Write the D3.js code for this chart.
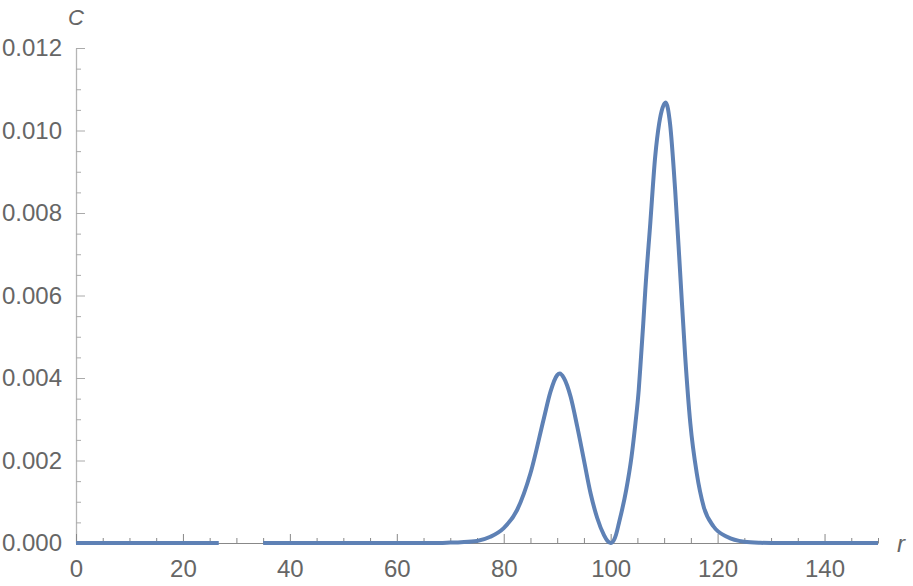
<!DOCTYPE html>
<html>
<head>
<meta charset="utf-8">
<script src="https://cdn.jsdelivr.net/npm/d3@7"></script>
<style>
  html, body { margin: 0; padding: 0; background: #fff; }
  svg { display: block; }
  .tick text { font-family: "Liberation Sans", Arial, sans-serif; font-size: 24px; fill: #666; }
</style>
</head>
<body>
<svg id="chart" width="913" height="586"></svg>
<script>
// ---- data ----
// null marks the gap in the curve
const rValues = [0, 26.7, null, 35, 60, 68, 70, 72, 75, 77.5, 80, 82.5, 85, 87.5, 88.75, 90, 90.5,
  91.25, 92.5, 93.75, 95, 96.25, 97.5, 98.75, 99.4, 100, 100.6, 101, 101.54, 102.9, 103.9, 104.63,
  105.25, 105.68, 106.1, 106.48, 107.41, 108.33, 109.07, 109.7, 110.3, 111.1, 112.06, 113, 113.94,
  114.9, 116.1, 117.4, 119.25, 121.75, 125, 128, 130, 150];
const cValues = [0, 0, null, 0, 0, 0, 0.00001, 0.00002, 0.00005, 0.00015, 0.00036, 0.0008, 0.00169,
  0.00302, 0.00367, 0.00407, 0.00411, 0.004, 0.00355, 0.00282, 0.00201, 0.0012, 0.0006, 0.00019,
  0.00005, 0, 0.00007, 0.0002, 0.00048, 0.00128, 0.00209, 0.0029, 0.00371, 0.00452, 0.00533, 0.00613,
  0.00775, 0.00937, 0.01017, 0.01055, 0.01068, 0.01017, 0.00856, 0.00654, 0.00452, 0.0029, 0.00169,
  0.00088, 0.0004, 0.00015, 0.00003, 0.000005, 0, 0];
const xMajorTicks = [0, 20, 40, 60, 80, 100, 120, 140];
const xMinorTicks = [5, 10, 15, 25, 30, 35, 45, 50, 55, 65, 70, 75, 85, 90, 95, 105, 110, 115, 125, 130, 135, 145, 150];
const yMajorTicks = [0, 0.002, 0.004, 0.006, 0.008, 0.010, 0.012];
const yMinorTicks = [0.0005, 0.001, 0.0015, 0.0025, 0.003, 0.0035, 0.0045, 0.005, 0.0055, 0.0065, 0.007, 0.0075,
  0.0085, 0.009, 0.0095, 0.0105, 0.011, 0.0115];
const xLabel = "r";
const yLabel = "C";

// ---- chart ----
const svg = d3.select("#chart");
const x = d3.scaleLinear().domain([0, 150]).range([76, 878]);
const y = d3.scaleLinear().domain([0, 0.012]).range([543, 48]);

// y axis
const gy = svg.append("g").attr("transform", `translate(${x(0)},0)`);
gy.call(d3.axisLeft(y).tickValues(yMajorTicks).tickFormat(d3.format(".3f"))
  .tickSizeInner(-9).tickSizeOuter(0).tickPadding(14));
gy.select(".domain").attr("stroke", "#b5b5b5").attr("stroke-width", 1.3);
gy.selectAll(".tick line").attr("stroke", "#aaa");
const gym = svg.append("g").attr("transform", `translate(${x(0)},0)`);
gym.call(d3.axisLeft(y).tickValues(yMinorTicks).tickFormat("").tickSizeInner(-5).tickSizeOuter(0));
gym.select(".domain").remove();
gym.selectAll(".tick line").attr("stroke", "#aaa");

// x axis
const gx = svg.append("g").attr("transform", `translate(0,${y(0)})`);
gx.call(d3.axisBottom(x).tickValues(xMajorTicks).tickFormat(d3.format("d"))
  .tickSizeInner(-9).tickSizeOuter(0).tickPadding(17));
gx.select(".domain").attr("stroke", "#888").attr("stroke-width", 1.2);
gx.selectAll(".tick line").attr("stroke", "#888");
const gxm = svg.append("g").attr("transform", `translate(0,${y(0)})`);
gxm.call(d3.axisBottom(x).tickValues(xMinorTicks).tickFormat("").tickSizeInner(-5).tickSizeOuter(0));
gxm.select(".domain").remove();
gxm.selectAll(".tick line").attr("stroke", "#888");

// axis labels
svg.append("text").attr("x", x(0)).attr("y", 25).attr("text-anchor", "middle")
  .attr("font-family", "Liberation Sans, Arial, sans-serif").attr("font-size", 22)
  .attr("font-style", "italic").attr("fill", "#666").text(yLabel);
svg.append("text").attr("x", 897).attr("y", 552)
  .attr("font-family", "Liberation Sans, Arial, sans-serif").attr("font-size", 24)
  .attr("font-style", "italic").attr("fill", "#666").text(xLabel);

// curve
const pts = rValues.map((r, i) => ({ r: r, c: cValues[i] }));
const line = d3.line()
  .defined(d => d.r !== null && d.c !== null)
  .x(d => x(d.r)).y(d => y(d.c))
  .curve(d3.curveMonotoneX);
svg.append("path").datum(pts).attr("d", line)
  .attr("fill", "none").attr("stroke", "#5E81B5").attr("stroke-width", 4)
  .attr("stroke-linejoin", "round");
</script>
</body>
</html>
